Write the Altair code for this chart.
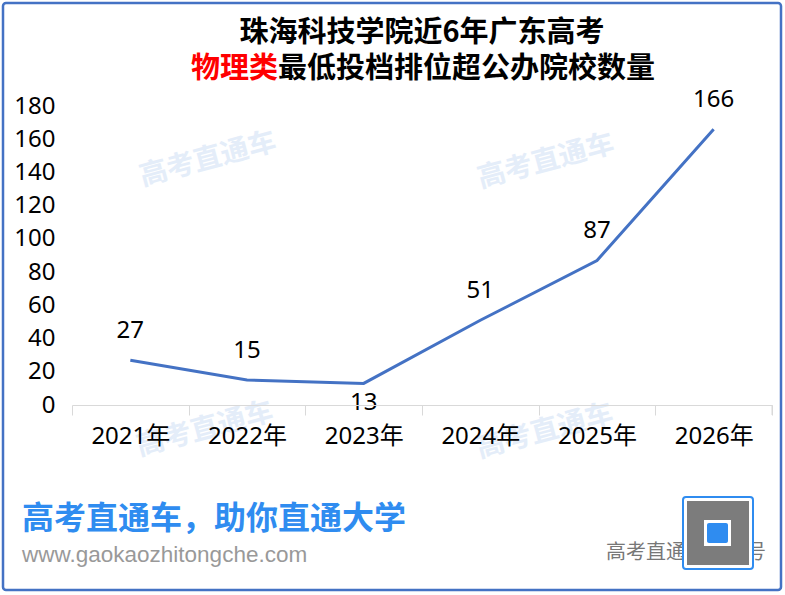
import altair as alt
import pandas as pd

years = ["2021年", "2022年", "2023年", "2024年", "2025年", "2026年"]
counts = [27, 15, 13, 51, 87, 166]
labels_below = ["2023年"]

title_line1 = "珠海科技学院近6年广东高考"
title_red = "物理类"
title_rest = "最低投档排位超公办院校数量"
watermark = "高考直通车"
slogan = "高考直通车，助你直通大学"
website = "www.gaokaozhitongche.com"
account = "高考直通车公众号"

df = pd.DataFrame({"year": years, "count": counts})

FONT = "Noto Sans, Noto Sans CJK SC, sans-serif"
CJK = "Noto Sans CJK SC, Noto Sans, sans-serif"
BLUE = "#4472C4"
one = alt.Data(values=[{}])

x_axis = alt.Axis(
    title=None, labelAngle=0, labelFontSize=24, labelFont=FONT, labelColor="#000",
    domainColor="#d9d9d9", tickColor="#d9d9d9", tickSize=10, tickBand="extent",
    labelPadding=9, grid=False, zindex=1,
)
y_axis = alt.Axis(
    title=None, values=list(range(0, 181, 20)), grid=False, domain=False, ticks=False,
    labelFontSize=24, labelFont=FONT, labelColor="#000", labelPadding=17,
    labelOverlap=False, zindex=1,
)
x_enc = alt.X("year:N", sort=years, scale=alt.Scale(paddingInner=0, paddingOuter=0), axis=x_axis)
y_enc = alt.Y("count:Q", scale=alt.Scale(domain=[0, 180], nice=False), axis=y_axis)

def deco_text(text, x, y, size, color, weight="normal", align="center", angle=0, font=CJK):
    kw = dict(text=text, fontSize=size, color=color, fontWeight=weight, align=align,
              baseline="middle", font=font)
    if angle:
        kw["angle"] = angle
    return alt.Chart(one).mark_text(**kw).encode(x=alt.value(x), y=alt.value(y))

def deco_rect(x, x2, y, y2, **kw):
    return alt.Chart(one).mark_rect(**kw).encode(
        x=alt.value(x), x2=alt.value(x2), y=alt.value(y), y2=alt.value(y2))

wm_color = "#e4edf9"
watermarks = [
    deco_text(watermark, 136, 54, 28, wm_color, "bold", angle=345),
    deco_text(watermark, 474, 56, 28, wm_color, "bold", angle=345),
    deco_text(watermark, 133, 324, 28, wm_color, "bold", angle=345),
    deco_text(watermark, 473, 326, 28, wm_color, "bold", angle=345),
]

base = alt.Chart(df)
line = base.mark_line(color=BLUE, strokeWidth=3).encode(x=x_enc, y=y_enc)
lab_above = base.transform_filter(
    alt.FieldOneOfPredicate(field="year", oneOf=[y for y in years if y not in labels_below])
).mark_text(fontSize=24, font=FONT, color="#000", dy=-29, baseline="middle").encode(
    x=x_enc, y=y_enc, text="count:Q")
lab_below = base.transform_filter(
    alt.FieldOneOfPredicate(field="year", oneOf=labels_below)
).mark_text(fontSize=24, font=FONT, color="#000", dy=20, baseline="middle").encode(
    x=x_enc, y=y_enc, text="count:Q")

end_tick = alt.Chart(one).mark_rule(color="#d9d9d9").encode(
    x=alt.value(700), y=alt.value(299), y2=alt.value(309))

titles = [
    deco_text(title_line1, 350, -73, 29, "#000", "bold"),
    deco_text(title_red, 206, -37, 29, "#ff0000", "bold", align="right"),
    deco_text(title_rest, 206, -37, 29, "#000", "bold", align="left"),
]

footer = [
    deco_text(slogan, -50, 413, 32, "#2f8cf0", "bold", align="left"),
    deco_text(website, -50, 449, 22.5, "#999999", align="left", font="Liberation Sans, sans-serif"),
    deco_text(account, 534, 447, 20, "#777777", align="left"),
    deco_rect(611, 681, 391, 463, fill="white", stroke="#2f8cf0", strokeWidth=2, cornerRadius=3),
    deco_rect(615, 677, 395, 459, fill="#6e6e6e", fillOpacity=0.9),
    deco_rect(632, 659, 414, 440, fill="white"),
    deco_rect(635, 656, 417, 437, fill="#2f8cf0", cornerRadius=2),
    deco_rect(-69, 709, -103, 484, fill=None, fillOpacity=0, stroke=BLUE, strokeWidth=2.5, cornerRadius=3),
]

chart = alt.layer(
    *watermarks, line, lab_above, lab_below, end_tick, *titles, *footer
).properties(
    width=700, height=299,
    padding={"left": 72, "top": 106, "right": 13, "bottom": 190},
    autosize=alt.AutoSizeParams(type="none"),
    background="white",
).configure_view(stroke=None)

chart.save("out.html", embed_options={"renderer": "svg", "actions": False})
